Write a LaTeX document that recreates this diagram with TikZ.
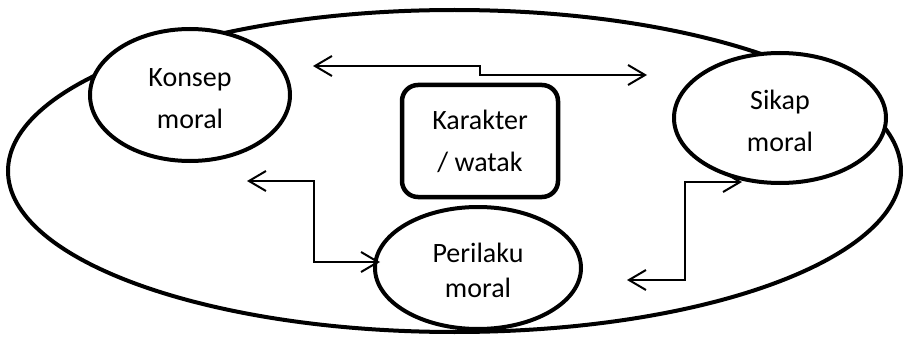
\documentclass[tikz,border=0pt]{standalone}
\usepackage{fontspec}
\setmainfont{Carlito}
\usetikzlibrary{arrows.meta,calc,shapes.geometric}
\newcommand{\tup}{\rule{0pt}{25pt}}
\begin{document}
\begin{tikzpicture}[x=1pt,y=-1pt,
  bub/.style={ellipse,draw,line width=4pt,fill=white,inner sep=0pt,align=center,
    font=\fontsize{28}{42}\selectfont},
  kbox/.style={rectangle,draw,line width=4.5pt,rounded corners=16pt,fill=white,inner sep=0pt,
    align=center,font=\fontsize{28}{42}\selectfont},
  arr/.style={line width=2pt,{Straight Barb[length=17pt,width=20pt]}-{Straight Barb[length=17pt,width=20pt]}}]
\useasboundingbox (0,0) rectangle (906,337);
% outer ellipse
\draw[line width=4pt] (454.5,171) ellipse [x radius=446.5pt, y radius=161pt];
% nodes
\node[bub,minimum width=200pt,minimum height=132pt] (konsep) at (190,95) {\tup Konsep\\moral};
\node[bub,minimum width=212pt,minimum height=130pt] (sikap) at (780,118) {\tup Sikap\\moral};
\node[bub,minimum width=206pt,minimum height=122pt,font=\fontsize{28}{35}\selectfont] (perilaku) at (478,268) {\tup Perilaku\\moral};
\node[kbox,minimum width=156pt,minimum height=112pt] (karakter) at (480,141) {\rule{0pt}{20pt}Karakter\\/ watak};
% connector end points
\coordinate (ta) at (313,66);
\coordinate (tb) at (647,75);
\coordinate (la) at (247,181);
\coordinate (lb) at (380,262);
\coordinate (ra) at (742,182);
\coordinate (rb) at (627,280);
\draw[arr] (ta) -| ($(ta)!.5!(tb)$) |- (tb);
\draw[arr] (la) -| ($(la)!.5!(lb)$) |- (lb);
\draw[arr] (ra) -| ($(ra)!.5!(rb)$) |- (rb);
\end{tikzpicture}
\end{document}
